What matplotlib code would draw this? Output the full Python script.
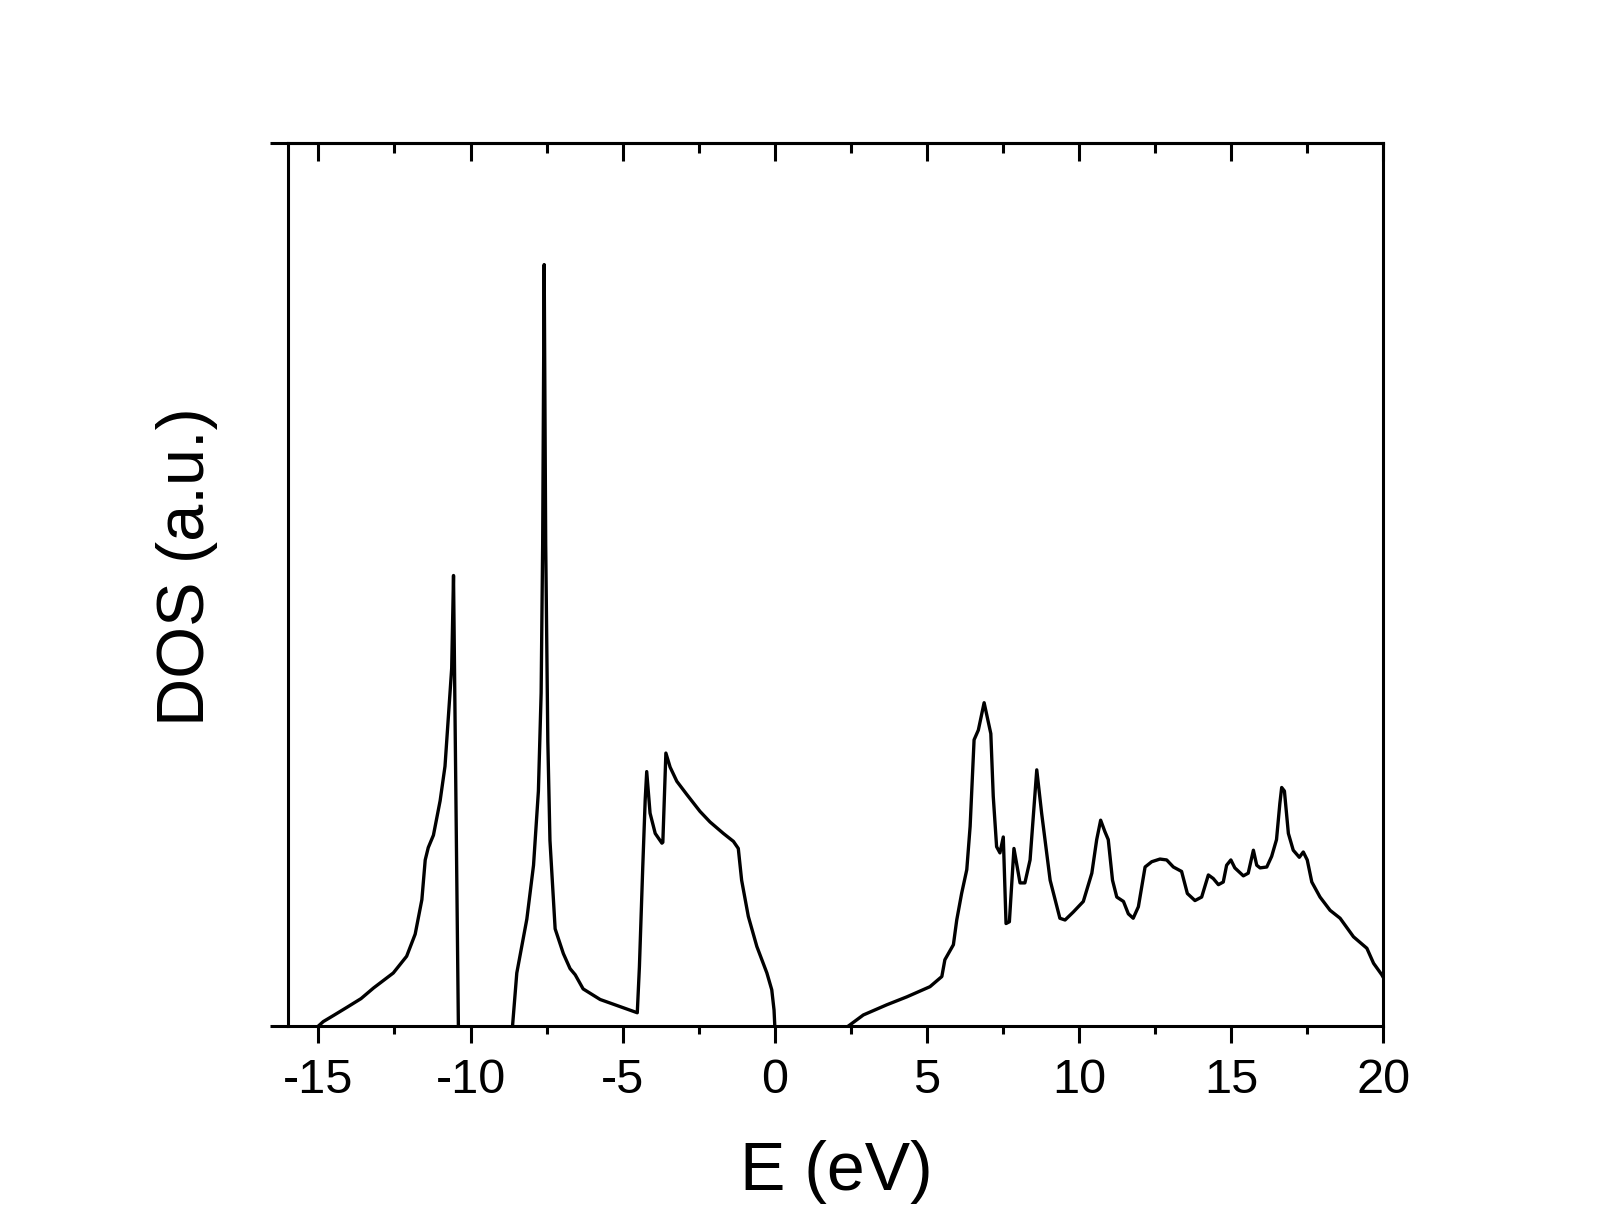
import matplotlib
matplotlib.use("Agg")
import matplotlib.pyplot as plt
from matplotlib.ticker import MultipleLocator

plt.rcParams['font.family'] = ['Liberation Sans', 'DejaVu Sans']

nan = float('nan')
# Energy (eV) and DOS (a.u.); NaN separates the bands
energy = [
    -15.0, -14.84, -14.50, -14.07, -13.60, -13.19, -12.54, -12.10, -11.82, -11.60, -11.49, -11.39,
    -11.22, -11.00, -10.84, -10.73, -10.62, -10.56, -10.40,
    nan,
    -8.62, -8.48, -8.15, -7.93, -7.77, -7.68, -7.63, -7.58, -7.53, -7.46, -7.39,
    -7.22, -6.95, -6.73, -6.56, -6.30, -5.74, -5.09, -4.52,
    -4.45, -4.34, -4.26, -4.21, -4.10, -3.93, -3.71, -3.68, -3.58, -3.44, -3.22,
    -2.89, -2.46, -2.13, -1.69, -1.36, -1.20, -1.09, -0.87, -0.59, -0.26, -0.10,
    -0.025, 0.0,
    nan,
    2.42, 2.91, 3.68, 4.34, 5.10, 5.49, 5.59, 5.87, 5.98, 6.14,
    6.31, 6.42, 6.55, 6.69, 6.88, 7.10, 7.18, 7.29, 7.40, 7.51,
    7.60, 7.71, 7.86, 8.06, 8.22, 8.39, 8.61, 8.77, 9.05, 9.37,
    9.54, 9.81, 10.14, 10.42, 10.58, 10.71, 10.85, 10.96, 11.10, 11.24,
    11.46, 11.62, 11.78, 11.95, 12.17, 12.39, 12.66, 12.88, 13.10, 13.37,
    13.56, 13.81, 14.03, 14.25, 14.41, 14.58, 14.74, 14.85, 14.99, 15.12,
    15.40, 15.56, 15.73, 15.84, 15.95, 16.17, 16.33, 16.49, 16.60, 16.66,
    16.75, 16.88, 17.04, 17.24, 17.37, 17.50, 17.65, 17.92, 18.25, 18.58,
    19.02, 19.46, 19.68, 19.95, 20.0,
]
dos = [
    0.0, 0.5, 1.2, 2.1, 3.1, 4.3, 6.0, 7.9, 10.4, 14.3, 18.8, 20.2,
    21.6, 25.5, 29.4, 34.9, 40.5, 51.0, 0.0,
    nan,
    0.0, 6.0, 12.1, 18.2, 26.6, 37.7, 54.5, 86.2, 54.5, 32.2, 21.0,
    11.0, 8.2, 6.5, 5.8, 4.2, 3.0, 2.2, 1.5,
    6.7, 18.0, 25.6, 28.8, 24.1, 21.8, 20.7, 20.8, 30.9, 29.3, 27.7,
    26.2, 24.3, 23.1, 21.8, 20.9, 20.1, 16.5, 12.4, 9.0, 6.0, 4.1,
    1.8, 0.0,
    nan,
    0.0, 1.25, 2.4, 3.3, 4.45, 5.6, 7.5, 9.2, 12.0, 15.0,
    17.7, 22.6, 32.4, 33.5, 36.6, 33.1, 26.0, 20.3, 19.6, 21.4,
    11.6, 11.8, 20.1, 16.2, 16.2, 18.8, 29.0, 24.1, 16.5, 12.2,
    12.0, 12.9, 14.1, 17.3, 21.1, 23.3, 22.0, 21.1, 16.5, 14.6,
    14.1, 12.7, 12.2, 13.5, 18.0, 18.6, 18.9, 18.8, 18.0, 17.5,
    15.0, 14.2, 14.6, 17.1, 16.7, 16.0, 16.3, 18.2, 18.8, 17.9,
    17.0, 17.3, 19.9, 18.2, 17.9, 18.0, 19.2, 21.1, 25.2, 27.0,
    26.6, 21.8, 19.9, 19.1, 19.7, 18.8, 16.3, 14.6, 13.1, 12.2,
    10.1, 8.8, 7.1, 5.8, 5.5,
]
assert len(energy) == len(dos)

xticks = [-15, -10, -5, 0, 5, 10, 15, 20]
xticklabels = ['-15', '-10', '-5', '0', '5', '10', '15', '20']

W, H = 1609, 1232
fig = plt.figure(figsize=(W / 100, H / 100), dpi=100)
ax = fig.add_axes([288 / W, 1 - 1026 / H, (1383.3 - 288) / W, (1026 - 142.7) / H])

ax.plot(energy, dos, color='black', linewidth=2.4, solid_joinstyle='round')
ax.set_xlim(-16, 20)
ax.set_ylim(0, 100)

lw = 2.2
for s in ax.spines.values():
    s.set_linewidth(lw)

ax.set_xticks(xticks)
ax.set_xticklabels(xticklabels)
ax.xaxis.set_minor_locator(MultipleLocator(2.5))
ax.tick_params(axis='x', which='major', direction='out', length=12.2, width=lw,
               labelsize=35, pad=11, top=False)
ax.tick_params(axis='x', which='minor', direction='out', length=6, width=lw, top=False)

ax.set_yticks([0, 100])
ax.set_yticklabels([])
ax.tick_params(axis='y', which='major', direction='out', length=13, width=lw, right=False)

top = ax.secondary_xaxis('top')
top.set_xticks(xticks)
top.xaxis.set_minor_locator(MultipleLocator(2.5))
top.tick_params(axis='x', which='major', direction='in', length=13, width=lw, labeltop=False)
top.tick_params(axis='x', which='minor', direction='in', length=7, width=lw)
top.spines['top'].set_linewidth(lw)

fig.text(836 / W, 1 - 1172 / H, 'E (eV)', fontsize=49, ha='center', va='center')
fig.text(187.5 / W, 1 - 567 / H, 'DOS (a.u.)', fontsize=48, ha='center', va='center',
         rotation=90)

fig.savefig('out.png', dpi=100)
